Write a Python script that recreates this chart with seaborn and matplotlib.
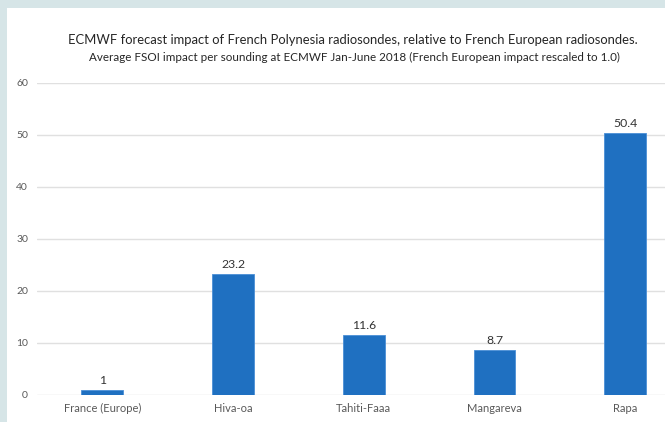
import matplotlib
matplotlib.use("Agg")
import matplotlib.pyplot as plt
from matplotlib.patches import Rectangle
import seaborn as sns
import pandas as pd

categories = ["France (Europe)", "Hiva-oa", "Tahiti-Faaa", "Mangareva", "Rapa"]
values = [1, 23.2, 11.6, 8.7, 50.4]
value_labels = ["1", "23.2", "11.6", "8.7", "50.4"]
yticks = [0, 10, 20, 30, 40, 50, 60]
title1 = "ECMWF forecast impact of French Polynesia radiosondes, relative to French European radiosondes."
title2 = "Average FSOI impact per sounding at ECMWF Jan-June 2018 (French European impact rescaled to 1.0)"

sns.set_theme(style="white")
plt.rcParams["font.family"] = ["Lato", "DejaVu Sans"]

W, H = 665, 422
fig = plt.figure(figsize=(W / 100, H / 100), dpi=100)
fig.patch.set_facecolor("#d6e5e7")
fig.patches.append(Rectangle((7 / W, 0), 1, (H - 8) / H, transform=fig.transFigure,
                             facecolor="white", edgecolor="none", zorder=-10))

ax_left, ax_right = 37, 37 + 5 * 130.7
ax_bottom, ax_top = 395, 83
ax = fig.add_axes([ax_left / W, (H - ax_bottom) / H, (ax_right - ax_left) / W,
                   (ax_bottom - ax_top) / H])
ax.set_facecolor("none")

df = pd.DataFrame({"cat": categories, "val": values})
sns.barplot(data=df, x="cat", y="val", color="#1f70c1", width=0.32, ax=ax,
            saturation=1, edgecolor="#4a8fd6", linewidth=0.6, zorder=3)

ax.set_ylim(0, 60)
ax.set_yticks(yticks)
ax.set_xlim(-0.5, 4.5)
ax.grid(axis="y", color="#e0e0e0", linewidth=1, zorder=0)
for s in ["top", "right", "left", "bottom"]:
    ax.spines[s].set_visible(False)
ax.set_xlabel("")
ax.set_ylabel("")
ax.tick_params(axis="y", length=0, pad=6.5, labelsize=7.5, labelcolor="#595959")
ax.tick_params(axis="x", length=0, pad=6, labelsize=8, labelcolor="#595959")

ax.bar_label(ax.containers[0], labels=value_labels, padding=3, fontsize=8.8, color="#333333")

fig.text(353 / W, 1 - 40 / H, title1, ha="center", va="center", fontsize=9.4, color="#262626")
fig.text(354 / W, 1 - 57 / H, title2, ha="center", va="center", fontsize=8.4, color="#262626")

fig.savefig("out.png", dpi=100, facecolor=fig.get_facecolor())
